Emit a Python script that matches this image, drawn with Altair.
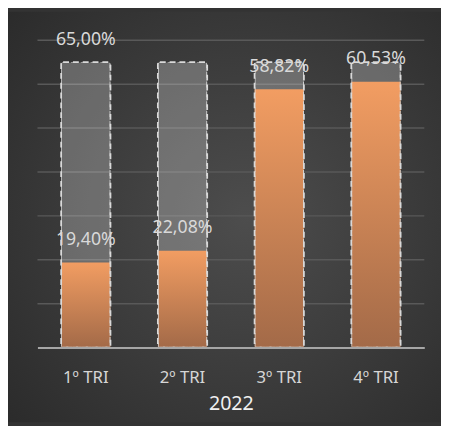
import altair as alt
import pandas as pd

quarters = ["1º TRI", "2º TRI", "3º TRI", "4º TRI"]
actual = [19.40, 22.08, 58.82, 60.53]
target = [65.00, 65.00, 65.00, 65.00]
show_target_label = [True, False, False, False]
grid_values = [10, 20, 30, 40, 50, 60, 70]

def fmt(v):
    return f"{v:.2f}".replace(".", ",") + "%"

df = pd.DataFrame({
    "q": quarters,
    "actual": actual,
    "target": target,
    "actual_label": [fmt(v) for v in actual],
    "target_label": [fmt(t) if s else "" for t, s in zip(target, show_target_label)],
})
grid_df = pd.DataFrame({"g": grid_values})

FONT = "Noto Sans"
W, H = 394, 313
PL, PT, PR, PB = 30, 29, 17, 76

x = alt.X("q:N", sort=quarters,
          scale=alt.Scale(paddingInner=0.49, paddingOuter=0.245),
          axis=alt.Axis(title="2022", labelAngle=0, labelFontSize=17,
                        labelColor="#d6d6d6", labelFont=FONT, labelPadding=23,
                        ticks=False, domain=True, domainColor="#a6a6a6",
                        domainWidth=2, titleFontSize=20, titleColor="#f0f0f0",
                        titleFont=FONT, titleFontWeight="normal", titlePadding=8,
                        zindex=1))
yscale = alt.Scale(domain=[0, 70], nice=False)

bg = alt.Chart(alt.Data(values=[{}])).mark_rect(
    fill={"gradient": "radial", "x1": 0.55, "y1": 0.5, "r1": 0,
          "x2": 0.55, "y2": 0.5, "r2": 0.75,
          "stops": [{"offset": 0, "color": "#4d4d4d"},
                    {"offset": 1, "color": "#2a2a2a"}]}
).encode(x=alt.value(-PL), x2=alt.value(W + PR), y=alt.value(-PT), y2=alt.value(H + PB))

grid = alt.Chart(grid_df).mark_rule(color="#595959", strokeWidth=1.5).encode(
    y=alt.Y("g:Q", scale=yscale,
            axis=alt.Axis(title=None, labels=False, ticks=False, domain=False, grid=False)),
    x=alt.value(0), x2=alt.value(W),
)

base = alt.Chart(df)

target_fill = base.mark_bar(color="#ffffff", opacity=0.25, cornerRadius=2).encode(
    x=x, y=alt.Y("target:Q", scale=yscale),
)

actual_bar = base.mark_bar(
    color={"gradient": "linear", "x1": 0, "y1": 0, "x2": 0, "y2": 1,
           "stops": [{"offset": 0, "color": "#f29d62"},
                     {"offset": 1, "color": "#a36a48"}]}
).encode(x=x, y=alt.Y("actual:Q", scale=yscale))

target_outline = base.mark_bar(
    fill=None, fillOpacity=0, stroke="#d9d9d9", strokeWidth=1.8,
    strokeDash=[6, 4], cornerRadius=2
).encode(x=x, y=alt.Y("target:Q", scale=yscale))

actual_text = base.mark_text(dy=-23, fontSize=18, color="#d9d9d9", font=FONT).encode(
    x=x, y=alt.Y("actual:Q", scale=yscale), text="actual_label:N")

target_text = base.mark_text(dy=-23, fontSize=18, color="#d9d9d9", font=FONT).encode(
    x=x, y=alt.Y("target:Q", scale=yscale), text="target_label:N")

chart = alt.layer(bg, grid, target_fill, actual_bar, target_outline, actual_text, target_text).properties(
    width=W, height=H,
    autosize=alt.AutoSizeParams(type="none"),
    padding={"left": PL, "top": PT, "right": PR, "bottom": PB},
    background="#333333",
).configure_view(stroke=None).configure_axis(grid=False)

chart.save("out.html", embed_options={"renderer": "svg", "actions": False})
